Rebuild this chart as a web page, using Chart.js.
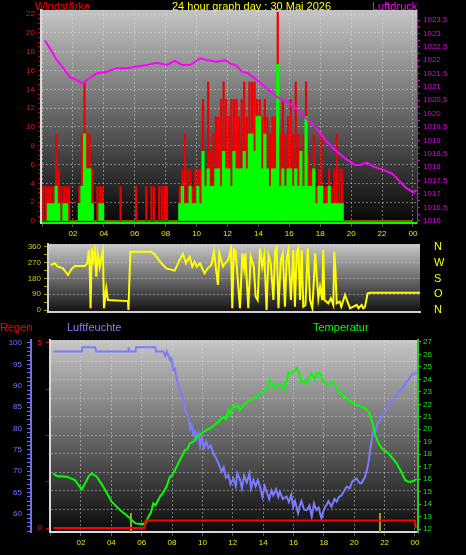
<!DOCTYPE html>
<html>
<head>
<meta charset="utf-8">
<script src="https://cdn.jsdelivr.net/npm/chart.js@4.4.1/dist/chart.umd.min.js"></script>
<style>
  body { margin: 0; background: #000; }
  #wrap { position: relative; width: 466px; height: 555px; overflow: hidden; background: #000; }
  #wrap canvas { position: absolute; left: 0; }
  .lbl { position: absolute; font: 11px 'Liberation Sans', Arial, sans-serif; line-height: 12px; white-space: nowrap; }
</style>
</head>
<body>
<div id="wrap">
  <canvas id="windChart" width="466" height="250" style="top:0"></canvas>
  <canvas id="dirChart" width="466" height="80" style="top:238px"></canvas>
  <canvas id="climateChart" width="466" height="225" style="top:330px"></canvas>

  <div class="lbl" style="left:35px;top:0;color:#ff0000">Windstärke</div>
  <div class="lbl" style="left:172px;top:0;color:#ffff00">24 hour graph day : 30 Mai 2026</div>
  <div class="lbl" style="left:372px;top:0;color:#ff00ff">Luftdruck</div>
  <div class="lbl" style="left:0;top:321px;color:#ff0000">Regen</div>
  <div class="lbl" style="left:67px;top:321px;color:#8080ff">Luftfeuchte</div>
  <div class="lbl" style="left:313px;top:321px;color:#00ff00">Temperatur</div>
</div>
<script>
// Wind per 10 minute slot, in knots (the axis shows km/h)
const gustKn = [
    2,2,2,2,2,5,  3,2,2,2,2,0,  0,0,2,5,8,5,  5,3,0,2,2,2,
    0,0,0,0,0,0,  2,0,0,0,0,0,  2,0,0,0,2,0,  2,2,0,2,2,2,
    2,0,0,0,0,2,  3,5,3,3,2,3,  3,3,7,3,8,4,  5,6,6,7,8,7,
    6,7,7,7,6,7,  8,6,8,8,8,7,  7,6,7,6,5,6,  6,12,5,7,5,6,
    7,5,8,5,4,5,  8,4,3,5,2,3,  5,2,2,3,2,3,  5,3,3,0,0,0,
    0,0,0,0,0,0,  0,0,0,0,0,0,  0,0,0,0,0,0,  0,0,0,0,0,0
];
const windKn = [
    0,0,1,1,1,2,  1,0,1,1,0,0,  0,0,1,2,5,3,  3,1,0,0,1,1,
    0,0,0,0,0,0,  0,0,0,0,0,0,  0,0,0,0,0,0,  0,0,0,0,0,0,
    0,0,0,0,0,1,  2,1,1,2,1,1,  2,1,4,2,3,2,  2,3,3,2,4,3,
    3,2,4,3,3,3,  4,3,5,5,4,6,  6,3,5,3,2,3,  3,9,2,3,2,3,
    3,2,3,2,4,2,  6,2,2,3,1,2,  2,1,1,2,1,1,  1,1,1,0,0,0,
    0,0,0,0,0,0,  0,0,0,0,0,0,  0,0,0,0,0,0,  0,0,0,0,0,0
];
const KN_TO_KMH = 1.852;

// [hour, hPa]
const pressurePts = [
    [0.19,1022.73],[0.52,1022.44],[0.88,1022.07],[1.38,1021.70],[1.81,1021.36],[2.35,1021.23],
    [2.65,1021.11],[2.9,1021.26],[3.54,1021.51],[4.19,1021.57],[4.83,1021.70],[5.48,1021.70],
    [6.12,1021.76],[6.77,1021.82],[7.42,1021.90],[8.07,1021.82],[8.6,1021.97],[9.05,1021.82],
    [9.59,1021.82],[10.23,1022.07],[10.66,1022.00],[11.3,1021.94],[11.84,1022.00],[12.17,1021.88],
    [12.6,1021.79],[12.92,1021.57],[13.35,1021.51],[13.9,1021.26],[14.54,1020.95],[15.19,1020.63],
    [15.84,1020.45],[16.45,1020.20],[17.02,1019.86],[17.67,1019.51],[18.32,1019.02],[18.96,1018.64],
    [19.6,1018.33],[20.26,1018.08],[20.58,1018.08],[21.0,1018.17],[21.45,1018.02],[21.99,1017.92],
    [22.63,1017.77],[23.17,1017.46],[23.5,1017.25],[24.03,1017.05],[24.22,1017.15]
];

// [hour, degrees]
const directionPts = [
    [0.11,257],[0.37,267],[0.58,248],[0.91,238],[1.23,200],[1.45,232],[1.67,251],[2.32,251],
    [2.49,267],[2.58,343],[2.63,286],[2.7,10],[2.78,352],[2.87,286],[2.97,343],[3.07,190],
    [3.16,324],[3.29,248],[3.4,305],[3.5,343],[3.57,10],[3.72,124],[3.83,57],[5.13,51],
    [5.16,0],[5.28,333],[6.65,333],[6.9,314],[7.3,267],[7.62,238],[8.16,225],[8.48,286],
    [8.7,320],[8.9,267],[9.13,305],[9.3,248],[9.46,276],[9.6,248],[9.8,267],[10.1,210],
    [10.3,238],[10.54,257],[10.71,333],[10.8,267],[10.97,143],[11.06,324],[11.3,248],[11.43,267],
    [11.64,286],[11.82,352],[11.9,10],[12.0,352],[12.05,286],[12.11,343],[12.4,10],[12.55,324],
    [12.67,238],[12.75,324],[12.94,10],[13.1,305],[13.3,248],[13.42,76],[13.55,57],[13.7,352],
    [13.85,248],[13.98,314],[14.13,0],[14.25,314],[14.4,267],[14.57,57],[14.68,343],[14.78,358],
    [14.9,10],[15.05,286],[15.18,324],[15.32,19],[15.43,286],[15.54,343],[15.71,57],[15.86,343],
    [15.97,19],[16.08,324],[16.19,352],[16.3,57],[16.41,343],[16.51,19],[16.65,29],[16.8,352],
    [16.95,57],[17.1,10],[17.2,171],[17.28,324],[17.49,67],[17.6,133],[17.74,57],[17.81,343],
    [17.88,57],[18.14,38],[18.3,67],[18.46,29],[18.52,333],[18.6,229],[18.68,38],[18.88,48],
    [18.98,19],[19.22,86],[19.38,48],[19.55,10],[19.76,19],[19.98,29],[20.1,10],[20.3,29],
    [20.41,10],[20.52,19],[20.69,95],[20.88,99],[24.09,99]
];
const compassLabels = ['N', 'O', 'S', 'W', 'N'];

// [hour, %]
const humidityPts = [
    [0.18,98],[2.05,98],[2.1,99],[2.92,99],[3.0,98],[5.1,98],[5.12,99],[5.15,98],[5.6,98],[5.63,99],
    [6.88,99],[6.95,98],[7.42,98],[7.55,97],[7.65,98],[7.86,96],[7.95,96.5],[8.08,93.7],[8.2,94],
    [8.3,91.7],[8.52,89],[8.74,86.7],[8.85,84.3],[9.07,82.8],[9.2,80],[9.29,80.8],[9.4,78.5],
    [9.5,79.3],[9.6,77.5],[9.73,78.9],[9.85,76],[9.95,78],[10.1,75.5],[10.25,77],[10.39,75.4],
    [10.55,76],[10.72,74.2],[10.9,73],[11.05,71.9],[11.27,69.9],[11.4,71],[11.55,68.5],[11.71,69.1],
    [11.85,67],[12.04,68.3],[12.2,66.5],[12.3,69.5],[12.48,68],[12.6,66],[12.75,69],[12.92,67.4],
    [13.1,69.5],[13.2,66],[13.36,68],[13.5,66.5],[13.65,68],[13.79,66.4],[13.95,64],[14.1,66.5],
    [14.23,65.2],[14.4,63.5],[14.55,65.5],[14.67,64.4],[14.85,65.8],[15.0,64],[15.1,65.2],[15.3,63.5],
    [15.54,64.1],[15.7,62.8],[15.85,64.5],[15.98,61.7],[16.1,63],[16.3,60.2],[16.42,62],[16.52,63],
    [16.7,61],[16.87,60.9],[17.05,62],[17.2,59.4],[17.35,62.5],[17.5,60.9],[17.65,61.5],[17.84,59],
    [18.0,61],[18.17,62.1],[18.3,63],[18.5,61.7],[18.7,63.5],[18.84,62.9],[19.0,64],[19.17,64.4],
    [19.35,65.5],[19.5,66.4],[19.7,66],[19.84,67.4],[20.0,68],[20.16,68.3],[20.35,67.2],[20.49,67.2],
    [20.6,68],[20.71,68.7],[20.85,70.5],[20.93,71.9],[21.08,75.7],[21.26,79.6],[21.37,78.9],[21.5,81],
    [21.7,82],[21.9,83.5],[22.14,84.3],[22.35,85.5],[22.57,86.7],[22.8,88],[23.0,89],[23.2,89.5],
    [23.45,90.9],[23.6,91.5],[23.78,92.5],[24.11,93.1]
];

// [hour, °C]
const temperaturePts = [
    [0.18,16.47],[0.4,16.25],[1.06,16.2],[1.6,15.93],[1.85,15.5],[2.05,15.18],[2.27,15.66],[2.5,16.2],
    [2.71,16.47],[3.04,16.2],[3.47,15.4],[4.02,14.19],[4.57,13.52],[5.12,12.99],[5.45,12.59],[5.6,12.45],
    [5.89,12.4],[6.1,12.43],[6.2,12.3],[6.44,12.99],[6.6,13.3],[6.76,14.06],[6.9,13.9],[7.2,14.59],
    [7.4,14.9],[7.64,15.4],[7.86,16.2],[8.0,16.3],[8.19,16.73],[8.52,17.53],[8.85,18.33],[9.0,18.4],
    [9.18,18.87],[9.4,19.0],[9.62,19.4],[9.84,19.54],[10.05,19.8],[10.5,20.07],[10.94,20.47],[11.2,20.8],
    [11.38,21.0],[11.55,20.8],[11.71,21.54],[11.85,21.2],[12.04,21.94],[12.2,21.8],[12.35,21.9],[12.48,21.54],
    [12.7,21.9],[12.92,22.2],[13.15,22.3],[13.36,22.48],[13.6,22.6],[13.79,22.88],[14.0,23.0],[14.23,23.15],
    [14.45,23.95],[14.6,23.6],[14.78,23.28],[15.0,23.6],[15.21,23.55],[15.43,23.15],[15.65,24.49],[15.9,24.5],
    [16.2,24.89],[16.35,24.6],[16.52,23.81],[16.7,23.9],[16.87,23.68],[17.05,24.2],[17.2,24.49],[17.4,24.0],
    [17.55,24.5],[17.74,24.49],[17.95,23.9],[18.18,23.55],[18.4,23.7],[18.6,23.81],[18.8,23.4],[19.06,22.88],
    [19.5,22.48],[19.8,22.2],[20.16,21.94],[20.4,21.85],[20.6,21.75],[20.8,21.6],[20.93,21.4],[21.05,21.1],
    [21.15,20.74],[21.37,19.6],[21.6,18.9],[21.81,18.47],[22.05,18.25],[22.25,18.07],[22.5,17.7],[22.79,17.27],
    [23.1,16.6],[23.35,15.93],[23.55,15.8],[23.78,15.8],[24.11,16.0]
];

// [hour, mm]
const rainPts = [[0.18,0],[6.2,0],[6.25,0.2],[24.0,0.2],[24.05,0]];

// sunrise / sunset markers (hour)
const sunTimes = [5.28, 21.7];

// ---------- helpers ----------
const FONT = "'Liberation Sans', Arial, sans-serif";
Chart.defaults.font.family = FONT;
Chart.defaults.font.size = 8;
Chart.defaults.animation = false;
Chart.defaults.plugins.legend.display = false;
Chart.defaults.plugins.tooltip.enabled = false;

const GRID = 'rgba(225,225,225,0.45)';

const toXY = pts => pts.map(p => ({ x: p[0], y: p[1] }));
const fixedHeight = px => scale => { scale.height = px; };
// fixed axis width, and no extra room for half labels above/below the plot
const fixedWidth = px => scale => { scale.width = px; scale.paddingTop = 0; scale.paddingBottom = 0; };
const isMult = (v, m) => Math.abs(v / m - Math.round(v / m)) < 1e-6;
const pad2 = v => String(v % 24).padStart(2, '0');
function stepTicks(from, to, step) {
    return scale => {
        const t = [];
        for (let v = from; v <= to + 1e-9; v += step) t.push({ value: +v.toFixed(4) });
        scale.ticks = t;
    };
}
const fmtHpa = v => Number.isInteger(v) ? String(v) : v.toFixed(1).replace('.', ',');

// gradient behind the plot area
const plotBg = {
    id: 'plotBg',
    beforeDraw(chart, args, opts) {
        const { ctx, chartArea: a } = chart;
        const g = ctx.createLinearGradient(0, a.top, 0, a.bottom);
        g.addColorStop(0, opts.top);
        g.addColorStop(1, opts.bottom);
        ctx.save();
        ctx.fillStyle = g;
        ctx.fillRect(a.left, a.top, a.right - a.left, a.bottom - a.top);
        ctx.restore();
    }
};

// short olive marks for sunrise and sunset
const sunMarks = {
    id: 'sunMarks',
    beforeDatasetsDraw(chart) {
        const { ctx, chartArea: a, scales } = chart;
        ctx.save();
        ctx.strokeStyle = '#a8982a';
        ctx.lineWidth = 2;
        sunTimes.forEach(t => {
            const x = Math.round(scales.x.getPixelForValue(t));
            ctx.beginPath();
            ctx.moveTo(x, a.bottom);
            ctx.lineTo(x, a.bottom - 19);
            ctx.stroke();
        });
        ctx.restore();
    }
};

const xHours = (min, max, height, borderColor) => ({
    type: 'linear', min: min, max: max, offset: false,
    afterBuildTicks: stepTicks(0, 24, 2),
    afterFit: fixedHeight(height),
    ticks: { color: '#e8e800', padding: 2, maxRotation: 0, autoSkip: false, callback: v => v === 0 ? '' : pad2(v) },
    grid: { color: GRID, offset: false, tickLength: 4, tickColor: '#555' },
    border: { color: borderColor, width: 2, dash: [2, 2] }
});

// ---------- wind speed + pressure ----------
const slotHour = i => i / 6 + 1 / 12;

new Chart(document.getElementById('windChart'), {
    data: {
        datasets: [
            {
                type: 'line', label: 'Luftdruck', yAxisID: 'yP', order: 0,
                data: toXY(pressurePts),
                borderColor: '#ff00ff', borderWidth: 2, pointRadius: 0, tension: 0
            },
            {
                type: 'bar', label: 'Wind', yAxisID: 'yW', order: 1,
                data: windKn.map((k, i) => ({ x: slotHour(i), y: k * KN_TO_KMH })),
                backgroundColor: '#00ff00'
            },
            {
                type: 'bar', label: 'Böen', yAxisID: 'yW', order: 2,
                data: gustKn.map((k, i) => ({ x: slotHour(i), y: k * KN_TO_KMH })),
                backgroundColor: '#ee0000', minBarLength: 2, barPercentage: 0.85
            }
        ]
    },
    options: {
        responsive: false,
        layout: { padding: { top: 10, left: 0, right: 0, bottom: 0 } },
        datasets: { bar: { grouped: false, barPercentage: 1, categoryPercentage: 1, borderWidth: 0 } },
        plugins: { plotBg: { top: '#c4c4c4', bottom: '#060606' } },
        scales: {
            x: xHours(-0.065, 24.26, 27, '#00ff00'),
            yW: {
                position: 'left', min: -0.21, max: 22.43,
                afterBuildTicks: stepTicks(0, 22, 0.5),
                afterFit: fixedWidth(41),
                ticks: { color: '#f01010', padding: 3, autoSkip: false, callback: v => isMult(v, 2) ? v : '' },
                grid: { color: c => isMult(c.tick.value, 2) && c.tick.value > 0 ? GRID : 'transparent', tickColor: '#c00000', tickLength: 3 },
                border: { color: '#d8d8d8', width: 2, dash: [2, 2] }
            },
            yP: {
                position: 'right', min: 1015.914, max: 1023.874,
                afterBuildTicks: stepTicks(1016, 1023.5, 0.25),
                afterFit: fixedWidth(49),
                ticks: { color: '#e000e0', padding: 3, autoSkip: false, callback: v => isMult(v, 0.5) ? fmtHpa(v) : '' },
                grid: { drawOnChartArea: false, tickColor: '#d000d0', tickLength: 3 },
                border: { color: '#d000d0', width: 1 }
            }
        }
    },
    plugins: [plotBg]
});

// ---------- wind direction ----------
new Chart(document.getElementById('dirChart'), {
    type: 'line',
    data: {
        datasets: [{
            label: 'Windrichtung',
            data: toXY(directionPts),
            borderColor: '#ffff00', borderWidth: 2, pointRadius: 0, tension: 0
        }]
    },
    options: {
        responsive: false,
        layout: { padding: { top: 6, left: 0, right: 0, bottom: 0 } },
        plugins: { plotBg: { top: '#c8c8c8', bottom: '#121212' } },
        scales: {
            x: {
                type: 'linear', min: -0.065, max: 24.09,
                afterFit: fixedHeight(6),
                ticks: { display: false },
                grid: { display: false, drawTicks: false },
                border: { color: '#d0d0d0', width: 2 }
            },
            y: {
                position: 'left', min: -11.4, max: 377.1,
                afterBuildTicks: stepTicks(0, 360, 45),
                afterFit: fixedWidth(48),
                ticks: { color: '#c8c820', padding: 3, autoSkip: false, callback: v => isMult(v, 90) ? v : '' },
                grid: { color: c => isMult(c.tick.value, 90) && c.tick.value > 0 ? GRID : 'transparent', tickColor: '#b0a000', tickLength: 4 },
                border: { color: '#d0d0d0', width: 2, dash: [2, 2] }
            },
            yDir: {
                position: 'right', min: -11.4, max: 377.1,
                afterBuildTicks: stepTicks(0, 360, 90),
                afterFit: fixedWidth(46),
                ticks: { color: '#ffff00', font: { size: 11 }, padding: 14, autoSkip: false, callback: v => compassLabels[Math.round(v / 90)] },
                grid: { display: false, drawTicks: false },
                border: { display: false }
            }
        }
    },
    plugins: [plotBg]
});

// ---------- rain, humidity, temperature ----------
new Chart(document.getElementById('climateChart'), {
    type: 'line',
    data: {
        datasets: [
            { label: 'Regen', yAxisID: 'yRain', order: 0, data: toXY(rainPts), borderColor: '#ff0000', borderWidth: 2, pointRadius: 0 },
            { label: 'Temperatur', yAxisID: 'yTemp', order: 1, data: toXY(temperaturePts), borderColor: '#00ff00', borderWidth: 2, pointRadius: 0 },
            { label: 'Luftfeuchte', yAxisID: 'yHum', order: 2, data: toXY(humidityPts), borderColor: '#7b7bff', borderWidth: 2, pointRadius: 0 }
        ]
    },
    options: {
        responsive: false,
        layout: { padding: { top: 10, left: 0, right: 0, bottom: 0 } },
        plugins: { plotBg: { top: '#c6c6c6', bottom: '#0a0a0a' } },
        scales: {
            x: xHours(-0.04, 24.2, 23, '#d8d8d8'),
            yRain: {
                position: 'left', weight: 0, min: -0.108, max: 5.08,
                afterBuildTicks: stepTicks(0, 5, 0.25),
                afterFit: fixedWidth(19),
                ticks: { color: '#ff2020', padding: 4, autoSkip: false, callback: v => (v === 0 || v === 5) ? v : '' },
                grid: {
                    color: c => isMult(c.tick.value, 0.5) && c.tick.value > 0 ? GRID : 'transparent',
                    tickColor: c => isMult(c.tick.value, 1.25) ? '#d00000' : 'transparent',
                    tickLength: 4
                },
                border: { color: '#d8d8d8', width: 2, dash: [2, 2] }
            },
            yHum: {
                position: 'left', weight: 1, min: 55.79, max: 100.7,
                afterBuildTicks: stepTicks(56, 100, 1),
                afterFit: fixedWidth(31),
                ticks: { color: '#7878ff', padding: 5, autoSkip: false, callback: v => isMult(v, 5) ? v : '' },
                grid: { drawOnChartArea: false, tickColor: '#7070f0', tickLength: 4 },
                border: { color: '#7070f0', width: 2 }
            },
            yTemp: {
                position: 'right', min: 11.76, max: 27.16,
                afterBuildTicks: stepTicks(12, 27, 1),
                afterFit: fixedWidth(48),
                ticks: { color: '#20e020', padding: 2, autoSkip: false },
                grid: { drawOnChartArea: false, tickColor: '#20d020', tickLength: 3 },
                border: { color: '#20d020', width: 2 }
            }
        }
    },
    plugins: [plotBg, sunMarks]
});
</script>
</body>
</html>
